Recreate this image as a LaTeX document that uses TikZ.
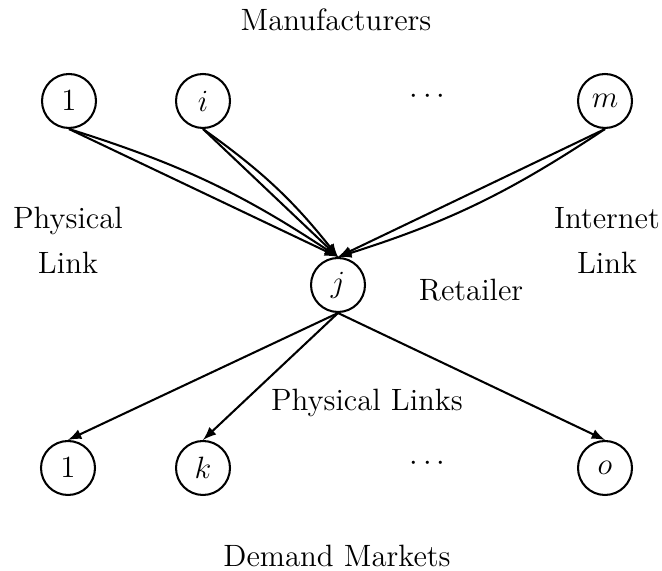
\documentclass[tikz,border=0pt]{standalone}
\usepackage{amsmath,amsfonts,amssymb}
\usepackage{xcolor}
\usepackage{tikz}
\usetikzlibrary{shapes,arrows,positioning}

\begin{document}
\begin{tikzpicture}[
        x=0.01367cm, y=-0.01367cm,
        >=latex,
        every node/.style={font=\fontsize{12}{17.5}\selectfont},
        firm/.style={circle, draw, thick, minimum size=21pt, inner sep=0pt},
        link/.style={->, thick},
        lbl/.style={align=center}
    ]
        \useasboundingbox (0,0) rectangle (662,571);

        % Manufacturers
        \node [lbl] (manu) at (336,20) {Manufacturers};
        \node [firm] (m1) at (69,101) {$1$};
        \node [firm] (mi) at (203,101) {$i$};
        \node (mdots) at (430,97) {$\cdots$};
        \node [firm] (mm) at (605,101) {$m$};

        % Retailer
        \node [firm] (rj) at (338,285) {$j$};
        \node [lbl] (retail) at (471,290) {Retailer};

        % Demand Markets
        \node [firm] (d1) at (68,468) {$1$};
        \node [firm] (dk) at (203,468) {$k$};
        \node (ddots) at (430,464) {$\cdots$};
        \node [firm] (do) at (605,468) {$o$};
        \node [lbl] (demand) at (337,556) {Demand Markets};

        % Link labels
        \node [lbl] (plink) at (68,240) {Physical\\Link};
        \node [lbl] (ilink) at (607,240) {Internet\\Link};
        \node [lbl] (plinks) at (367,403) {Physical Links};

        % Physical links
        \draw [link] (m1.south) -- (rj.north);
        \draw [link] (mi.south) -- (rj.north);
        \draw [link] (mm.south) -- (rj.north);

        % Internet links
        \draw [link] (m1.south) to[bend left=8] (rj.north);
        \draw [link] (mi.south) to[bend left=8] (rj.north);
        \draw [link] (mm.south) to[bend left=8] (rj.north);

        % Retailer to demand markets
        \draw [link] (rj.south) -- (d1.north);
        \draw [link] (rj.south) -- (dk.north);
        \draw [link] (rj.south) -- (do.north);

    \end{tikzpicture}
\end{document}
